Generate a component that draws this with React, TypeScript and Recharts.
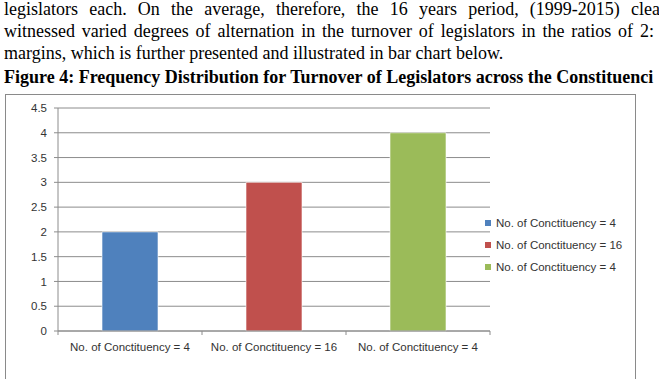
import React from "react";
import { BarChart, Bar, Cell, XAxis, YAxis, CartesianGrid, Legend } from "recharts";

// Categories, values and colours for the turnover chart
const categories = [
  "No. of Conctituency = 4",
  "No. of Conctituency = 16",
  "No. of Conctituency = 4",
];
const turnover = [2, 3, 4];
const barColors = ["#4F81BD", "#C0504D", "#9BBB59"];
const yTicks = [0, 0.5, 1, 1.5, 2, 2.5, 3, 3.5, 4, 4.5];

const paragraphLines = [
  "legislators each. On the average, therefore, the 16 years period, (1999-2015) clea",
  "witnessed varied degrees of alternation in the turnover of legislators in the ratios of 2:",
  "margins, which is further presented and illustrated in bar chart below.",
];
const figureTitle =
  "Figure 4: Frequency Distribution for Turnover of Legislators across the Constituenci";

const CHART_W = 629;
const CHART_H = 298;
const MARGIN = { top: 13, right: 145, left: 0, bottom: 32 };
const Y_AXIS_W = 52;
const PLOT_W = CHART_W - MARGIN.left - MARGIN.right - Y_AXIS_W;
const BAND = PLOT_W / categories.length;

const chartFont = "'Liberation Sans', Arial, sans-serif";
const axisGray = "#8c8c8c";

const data = categories.map((name, i) => ({ name, value: turnover[i] }));

// Category label plus Excel-style tick marks on the category boundaries
const CategoryTick = (props: any) => {
  const { x, y, payload, index } = props;
  return (
    <g>
      <line x1={x - BAND / 2} y1={y} x2={x - BAND / 2} y2={y + 4} stroke={axisGray} />
      {index === categories.length - 1 && (
        <line x1={x + BAND / 2} y1={y} x2={x + BAND / 2} y2={y + 4} stroke={axisGray} />
      )}
      <text
        x={x}
        y={y + 20}
        textAnchor="middle"
        fontSize={11.5}
        fontFamily={chartFont}
        fill="#333"
      >
        {payload.value}
      </text>
    </g>
  );
};

const LegendList = () => (
  <div style={{ fontFamily: chartFont, fontSize: 11.5, color: "#333" }}>
    {categories.map((name, i) => (
      <div key={i} style={{ height: 22, display: "flex", alignItems: "center" }}>
        <span
          style={{
            width: 6,
            height: 6,
            background: barColors[i],
            display: "inline-block",
            marginRight: 5,
          }}
        />
        <span>{name}</span>
      </div>
    ))}
  </div>
);

const lineStyle: React.CSSProperties = {
  position: "absolute",
  left: 4,
  fontFamily: "'Liberation Serif', 'Times New Roman', serif",
  fontSize: 18,
  lineHeight: "20px",
  color: "#000",
};

export default function App() {
  return (
    <div
      style={{
        position: "absolute",
        left: 0,
        top: 0,
        width: 659,
        height: 379,
        overflow: "hidden",
        background: "#fff",
      }}
    >
      <div style={{ ...lineStyle, top: -1.5, width: 656, textAlign: "justify", textAlignLast: "justify" }}>
        {paragraphLines[0]}
      </div>
      <div style={{ ...lineStyle, top: 21, width: 650, textAlign: "justify", textAlignLast: "justify" }}>
        {paragraphLines[1]}
      </div>
      <div style={{ ...lineStyle, top: 43, whiteSpace: "nowrap" }}>{paragraphLines[2]}</div>
      <div style={{ ...lineStyle, top: 67, fontWeight: "bold", whiteSpace: "nowrap" }}>
        {figureTitle}
      </div>

      <div
        style={{
          position: "absolute",
          left: 5,
          top: 94,
          width: CHART_W + 2,
          height: CHART_H + 2,
          border: "1px solid #8a8a8a",
          boxSizing: "border-box",
        }}
      >
        <BarChart
          width={CHART_W}
          height={CHART_H}
          data={data}
          margin={MARGIN}
          barCategoryGap={44}
        >
          <CartesianGrid vertical={false} stroke={axisGray} />
          <XAxis
            dataKey="name"
            stroke={axisGray}
            tickLine={false}
            tickSize={0}
            tickMargin={0}
            height={30}
            interval={0}
            tick={<CategoryTick />}
          />
          <YAxis
            width={Y_AXIS_W}
            domain={[0, 4.5]}
            ticks={yTicks}
            stroke={axisGray}
            tickSize={4}
            tickMargin={7}
            tick={{ fontSize: 11.5, fontFamily: chartFont, fill: "#333" }}
          />
          <Legend
            layout="vertical"
            align="center"
            verticalAlign="middle"
            content={<LegendList />}
            wrapperStyle={{ left: 479, top: 117, width: 150 }}
          />
          <Bar dataKey="value" isAnimationActive={false} stroke="rgba(255,255,255,0.6)">
            {data.map((d, i) => (
              <Cell key={i} fill={barColors[i]} />
            ))}
          </Bar>
        </BarChart>
      </div>
    </div>
  );
}
